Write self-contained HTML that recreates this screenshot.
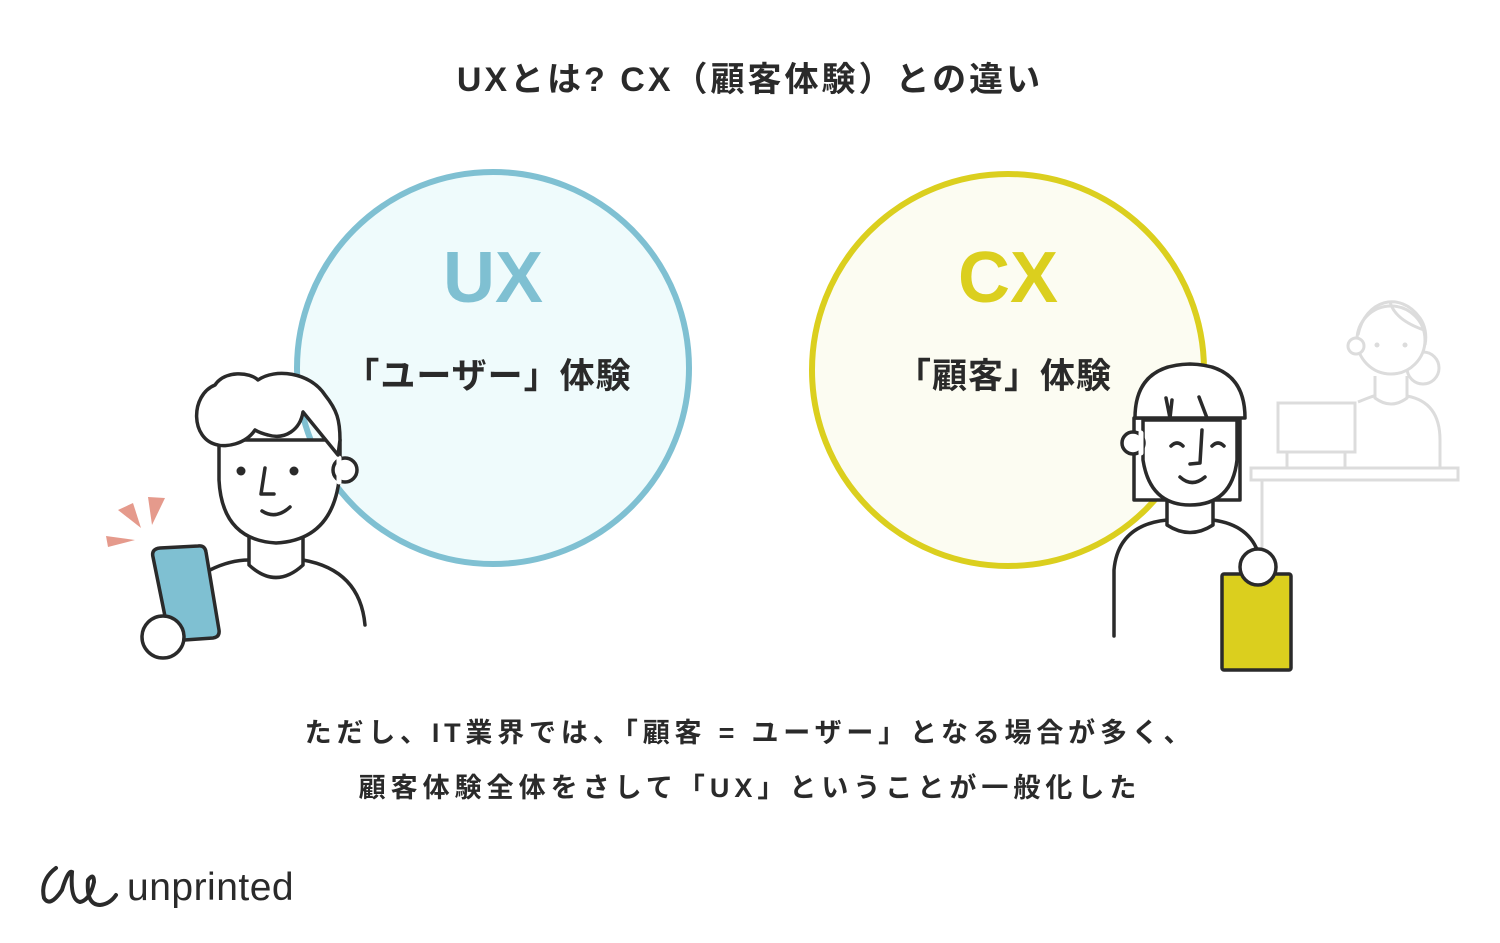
<!DOCTYPE html>
<html><head><meta charset="utf-8"><style>
html,body{margin:0;padding:0;background:#fff;}
svg text{font-family:"Liberation Sans","Noto Sans CJK JP",sans-serif;font-weight:bold;}
</style></head><body>
<svg width="1500" height="938" viewBox="0 0 1500 938" xmlns="http://www.w3.org/2000/svg">
<rect width="1500" height="938" fill="#fff"/>
<text x="750" y="91" font-size="34" text-anchor="middle" fill="#2a2a2a" letter-spacing="3">UXとは? CX（顧客体験）との違い</text>

<circle cx="493" cy="368" r="196" fill="#effbfc" stroke="#7fc0d2" stroke-width="6"/>
<circle cx="1008" cy="370" r="196" fill="#fcfcf2" stroke="#dbcf1e" stroke-width="6"/>
<text x="493" y="302" font-size="72" text-anchor="middle" fill="#7fc0d2">UX</text>
<text x="1008" y="302" font-size="72" text-anchor="middle" fill="#dbcf1e">CX</text>
<text x="488" y="388" font-size="35" text-anchor="middle" fill="#2a2a2a" letter-spacing="1">「ユーザー」体験</text>
<text x="1004" y="388" font-size="35" text-anchor="middle" fill="#2a2a2a" letter-spacing="1">「顧客」体験</text>

<!-- background person -->
<g fill="none" stroke="#dcdcdc" stroke-width="3">
<circle cx="1423" cy="368" r="16" fill="#fff"/>
<circle cx="1391" cy="340" r="34" fill="#fff"/>
<path d="M1358 335 C1365 300 1400 290 1420 318 C1425 325 1427 335 1425 345 M1390 302 Q1395 320 1424 330"/>
<circle cx="1356" cy="346" r="8" fill="#fff"/>
<path d="M1375 376 L1375 398 Q1391 410 1407 398 L1407 376"/>
<path d="M1358 402 Q1375 395 1375 396 M1407 396 Q1440 402 1440 440 L1440 468"/>
<rect x="1278" y="403" width="77" height="49" fill="#fff"/>
<rect x="1287" y="452" width="58" height="16"/>
<rect x="1251" y="468" width="207" height="12"/>
<path d="M1262 480 L1262 548"/>
</g>
<g fill="#dcdcdc"><circle cx="1377" cy="345" r="2.5"/><circle cx="1405" cy="345" r="2.5"/></g>

<!-- left person -->
<g fill="none" stroke="#2a2a2a" stroke-width="3.5" stroke-linecap="round" stroke-linejoin="round">
<path d="M210 570 Q230 560 249 560 M303 560 Q360 570 365 625"/>
<path d="M249 535 L249 565 Q276 590 303 565 L303 535" fill="#fff"/>
<path d="M219 440 L219 480 Q222 540 276 543 Q336 540 340 470 L340 440 Z" fill="#fff"/>
<circle cx="345" cy="470" r="12" fill="#fff"/>
<path d="M339 458 L339 482" stroke="#fff" stroke-width="5"/>
<path d="M218 445 C190 440 190 395 215 385 C225 370 250 372 258 380 C275 368 310 372 325 395 C337 410 340 420 340 440 L338 455 L303 412 C300 430 285 440 268 435 C260 433 255 430 255 430 C245 445 225 447 218 445 Z" fill="#fff"/>
<path d="M265 468 L261 494 L274 494"/>
<path d="M262 511 Q276 520 290 507"/>
<path d="M153 557 Q151 549 160 548 L198 546 Q205 545 206 552 L219 630 Q220 637 213 638 L170 641 Z" fill="#7fc0d2"/>
<circle cx="163" cy="637" r="21" fill="#fff"/>
</g>
<g fill="#2a2a2a"><circle cx="241" cy="471" r="4.5"/><circle cx="294" cy="471" r="4.5"/></g>
<g fill="#e59a8c">
<polygon points="118,510 133,503 141,528"/>
<polygon points="148,497 165,498 152,525"/>
<polygon points="106,536 108,547 135,540"/>
</g>

<!-- right person -->
<g fill="none" stroke="#2a2a2a" stroke-width="3.5" stroke-linecap="round" stroke-linejoin="round">
<path d="M1114 636 L1114 570 Q1118 525 1167 520 M1213 520 Q1250 525 1259 555"/>
<path d="M1167 500 L1167 525 Q1190 540 1213 525 L1213 500" fill="#fff"/>
<path d="M1134 418 L1134 500 L1240 500 L1240 418 Z" fill="#fff"/>
<path d="M1143 420 L1143 460 Q1150 505 1190 505 Q1232 505 1237 460 L1237 420 Z" fill="#fff"/>
<circle cx="1133" cy="443" r="11" fill="#fff"/>
<path d="M1141 433 L1141 453" stroke="#fff" stroke-width="5"/>
<path d="M1135 418 Q1135 365 1190 364 Q1245 365 1245 418 Z" fill="#fff"/>
<path d="M1166 398 L1170 418 L1172 400 M1199 397 L1207 418"/>
<path d="M1171 446 Q1177 440 1183 446 M1212 446 Q1218 440 1224 446"/>
<path d="M1202 430 L1200 463 L1190 464"/>
<path d="M1180 477 Q1192 488 1205 477"/>
<rect x="1222" y="574" width="69" height="96" rx="2" fill="#dbcf1e"/>
<circle cx="1258" cy="567" r="18" fill="#fff"/>
</g>

<text x="750" y="742" font-size="27" text-anchor="middle" fill="#2a2a2a" letter-spacing="4.8">ただし、IT業界では、「顧客 = ユーザー」となる場合が多く、</text>
<text x="750" y="797" font-size="27" text-anchor="middle" fill="#2a2a2a" letter-spacing="5">顧客体験全体をさして「UX」ということが一般化した</text>

<path d="M56 868 Q40 880 44 898 Q50 908 62 890 Q68 870 72 872 Q70 900 80 902 Q90 900 94 882 Q94 872 88 880 Q86 905 100 905 Q110 904 116 895" fill="none" stroke="#2a2a2a" stroke-width="4" stroke-linecap="round"/>
<text x="127" y="900" font-size="39" fill="#2a2a2a" style="font-weight:normal" letter-spacing="0.5">unprinted</text>
</svg>
</body></html>
